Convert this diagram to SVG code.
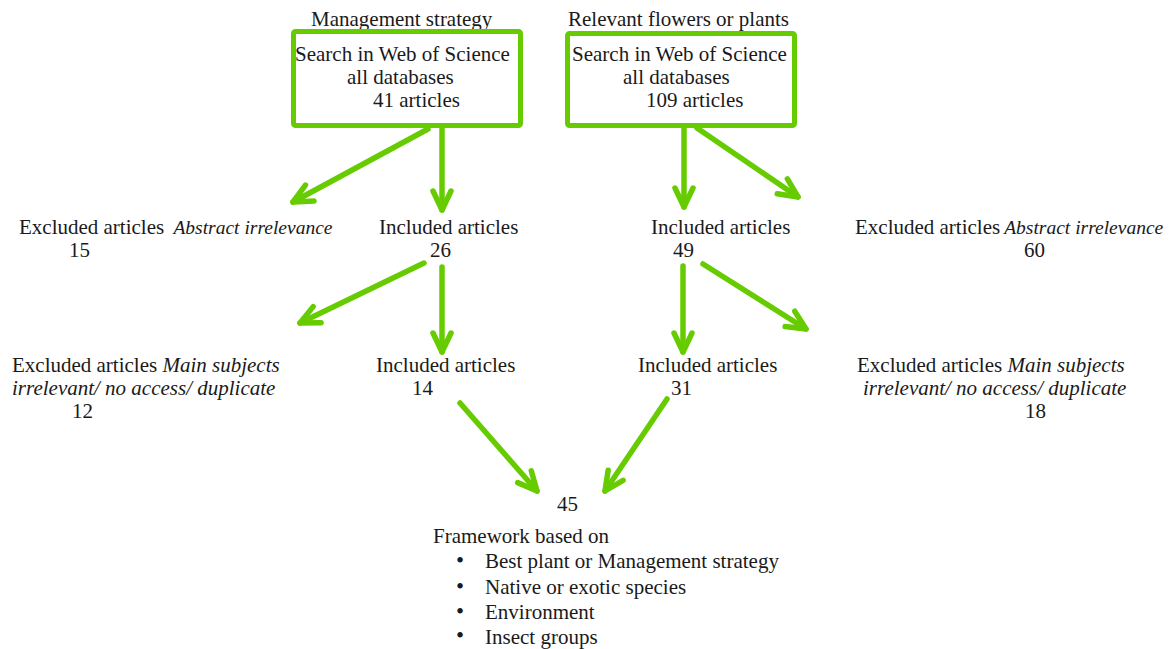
<svg xmlns="http://www.w3.org/2000/svg" width="1173" height="649" viewBox="0 0 1173 649">
<style>
text{font-family:"Liberation Serif","Times New Roman",serif;font-size:21px;fill:#1a1a1a}
.it{font-style:italic}
.sm{font-size:19.5px}
.bul{font-size:23px}
.box{fill:#fff;stroke:#66cc00;stroke-width:5}
.arr{stroke:#66cc00;stroke-width:5.5;stroke-linecap:round;fill:none;marker-end:url(#ah)}
</style>
<defs>
<marker id="ah" markerUnits="userSpaceOnUse" viewBox="-25 -15 30 30" markerWidth="30" markerHeight="30" refX="0" refY="0" orient="auto" overflow="visible">
<path d="M -19 -9 L 0 0 L -19 9" fill="none" stroke="#66cc00" stroke-width="5.5" stroke-linecap="round" stroke-linejoin="round"/>
</marker>
</defs>
<rect width="1173" height="649" fill="#fff"/>
<g id="search-management">
<text x="311" y="26">Management strategy</text>
<rect class="box" x="293.5" y="31.5" width="227" height="94" rx="2"/>
<text x="295" y="61">Search in Web of Science</text>
<text x="347" y="84">all databases</text>
<text x="373" y="107">41 articles</text>
</g>
<g id="search-plants">
<text x="568" y="26">Relevant flowers or plants</text>
<rect class="box" x="567.5" y="33.5" width="227" height="92" rx="2"/>
<text x="572" y="61">Search in Web of Science</text>
<text x="623" y="84">all databases</text>
<text x="646" y="107">109 articles</text>
</g>
<g id="excluded-15">
<text x="19" y="234">Excluded articles <tspan class="it sm" dx="4">Abstract irrelevance</tspan></text>
<text x="69" y="257">15</text>
</g>
<g id="included-26">
<text x="379" y="234">Included articles</text>
<text x="430" y="257">26</text>
</g>
<g id="included-49">
<text x="651" y="234">Included articles</text>
<text x="673" y="257">49</text>
</g>
<g id="excluded-60">
<text x="855" y="234">Excluded articles<tspan class="it sm" dx="4">Abstract irrelevance</tspan></text>
<text x="1024" y="257">60</text>
</g>
<g id="excluded-12">
<text x="12" y="372">Excluded articles <tspan class="it">Main subjects</tspan></text>
<text class="it" x="12" y="395">irrelevant/ no access/ duplicate</text>
<text x="72" y="418">12</text>
</g>
<g id="included-14">
<text x="376" y="372">Included articles</text>
<text x="412" y="395">14</text>
</g>
<g id="included-31">
<text x="638" y="372">Included articles</text>
<text x="671" y="395">31</text>
</g>
<g id="excluded-18">
<text x="857" y="372">Excluded articles <tspan class="it">Main subjects</tspan></text>
<text class="it" x="863" y="395">irrelevant/ no access/ duplicate</text>
<text x="1025" y="418">18</text>
</g>
<g id="result-45">
<text x="557" y="511">45</text>
<text x="433" y="543">Framework based on</text>
<text class="bul" x="456" y="568">•</text><text x="485" y="568">Best plant or Management strategy</text>
<text class="bul" x="456" y="594">•</text><text x="485" y="594">Native or exotic species</text>
<text class="bul" x="456" y="619">•</text><text x="485" y="619">Environment</text>
<text class="bul" x="456" y="643">•</text><text x="485" y="644">Insect groups</text>
</g>
<g id="connectors">
<line class="arr" x1="428" y1="129" x2="293" y2="202"/>
<line class="arr" x1="442" y1="129" x2="442" y2="210"/>
<line class="arr" x1="684" y1="129" x2="684" y2="207"/>
<line class="arr" x1="697" y1="128" x2="798" y2="197"/>
<line class="arr" x1="424" y1="263" x2="300" y2="323"/>
<line class="arr" x1="442" y1="267" x2="442" y2="352"/>
<line class="arr" x1="683" y1="266" x2="683" y2="352"/>
<line class="arr" x1="703" y1="264" x2="806" y2="329"/>
<line class="arr" x1="460" y1="403" x2="537" y2="491"/>
<line class="arr" x1="667" y1="399" x2="605" y2="491"/>
</g>
</svg>
